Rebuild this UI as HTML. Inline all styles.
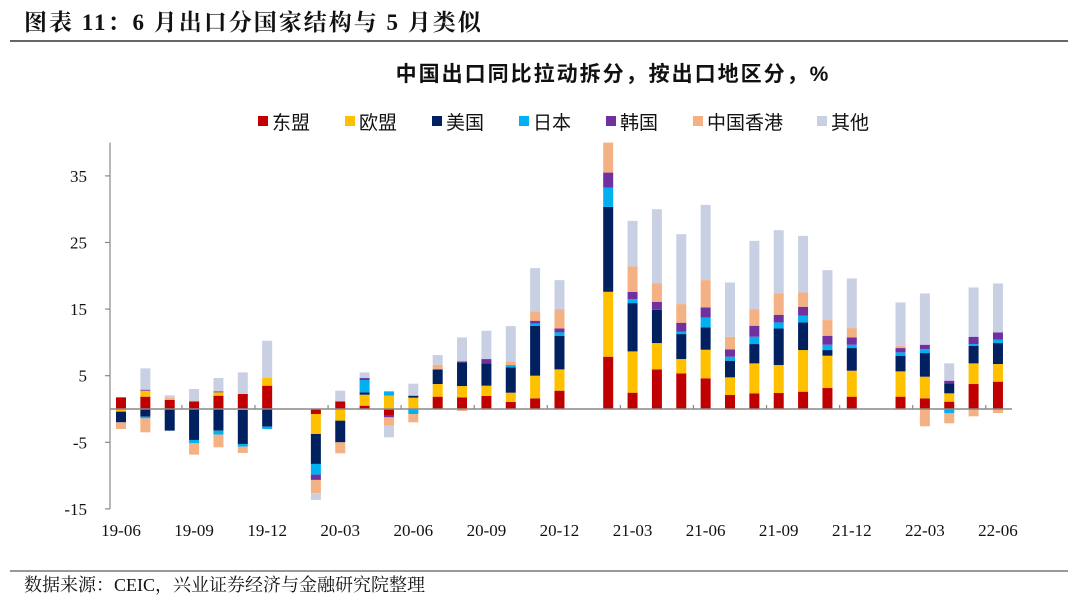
<!DOCTYPE html>
<html><head><meta charset="utf-8">
<style>
body{margin:0;background:#fff;}
#wrap{position:relative;width:1080px;height:607px;overflow:hidden;background:#fff;}
svg text{font-family:"Liberation Serif","Noto Serif CJK SC",serif;}
</style></head>
<body>
<div id="wrap">
<svg id="chart" width="1080" height="607" viewBox="0 0 1080 607" xmlns="http://www.w3.org/2000/svg">
  <text x="24" y="30" font-size="23" font-weight="bold" letter-spacing="2" fill="#111">图表 11：6 月出口分国家结构与 5 月类似</text>
  <line x1="10" y1="41" x2="1068" y2="41" stroke="#333" stroke-width="1.5"/>
  <text x="613" y="81" font-size="21" font-weight="bold" letter-spacing="2" text-anchor="middle" fill="#111" style="font-family:'Liberation Sans','Noto Sans CJK SC',sans-serif">中国出口同比拉动拆分，按出口地区分，%</text>
  <g id="legend"></g>
  <g id="plot"></g>
  <line x1="10" y1="571" x2="1068" y2="571" stroke="#333" stroke-width="1"/>
  <text x="24" y="591" font-size="18" fill="#111">数据来源：CEIC，兴业证券经济与金融研究院整理</text>
</svg>
</div>
<script>
const categories = ["19-06","19-07","19-08","19-09","19-10","19-11","19-12","20-01","20-02","20-03","20-04","20-05","20-06","20-07","20-08","20-09","20-10","20-11","20-12","21-01","21-02","21-03","21-04","21-05","21-06","21-07","21-08","21-09","21-10","21-11","21-12","22-01","22-02","22-03","22-04","22-05","22-06"];
const seriesNames = ["东盟","欧盟","美国","日本","韩国","中国香港","其他"];
const seriesColors = ["#C00000","#FFC000","#002060","#00B0F0","#7030A0","#F4B183","#C9D0E3"];
const asean  = [1.75,1.85,1.35,1.15,2,2.25,3.5,0,-0.75,1.15,0.5,-0.9,0.1,1.85,1.75,1.95,1.05,1.6,2.75,0,7.85,2.45,5.95,5.35,4.6,2.1,2.35,2.4,2.6,3.15,1.85,0,1.85,1.6,1.1,3.75,4.1];
const eu     = [-0.4,0.9,0,0,0.5,-0.15,1.15,0,-3,-1.75,1.65,2,1.6,1.9,1.7,1.55,1.4,3.4,3.2,0,9.75,6.2,3.95,2.15,4.3,2.65,4.5,4.2,6.25,4.85,3.9,0,3.8,3.25,1.25,3.1,2.65];
const usa    = [-1.6,-1.15,-3.25,-4.65,-3.25,-5.1,-2.65,0,-4.5,-3.25,0.35,0,0.3,2.2,3.55,3.35,3.8,7.5,5.05,0,12.75,7.25,5,3.75,3.35,2.5,2.9,5.5,4.15,0.85,3.4,0,2.35,3.55,1.5,2.65,3.15];
const japan  = [0,-0.25,0,-0.5,-0.6,-0.4,-0.35,0,-1.6,0,1.85,0.65,-0.75,0,0,0,0.35,0.35,0.5,0,2.9,0.6,0,0.35,1.5,0.6,1.1,0.9,1,0.8,0.5,0,0.5,0.6,-0.65,0.25,0.5];
const korea  = [0,0.15,0,0,0.15,0,0,0,-0.8,0,0.3,-0.35,0,0,0.15,0.65,0,0.4,0.6,0,2.25,1.1,1.2,1.35,1.5,1.1,1.65,1.15,1.35,1.35,1.1,0,0.65,0.65,0.4,1.1,1.1];
const hk     = [-1,-2.1,0.3,-1.7,-1.9,-0.95,0,0,-2,-1.65,0,-1.25,-1.25,0.7,-0.3,0,0.55,1.4,2.9,0,4.5,3.8,2.75,2.8,4.1,1.9,2.5,3.2,2.15,2.35,1.4,0,0.35,-2.6,-1.5,-1.1,-0.6];
const other  = [0,3.2,0.4,1.85,2,3.25,5.6,0,-1,1.6,0.85,-1.75,1.8,1.45,3.6,4.25,5.3,6.5,4.35,0,0,6.85,11.15,10.5,11.3,8.15,10.25,9.5,8.5,7.5,7.45,0,6.5,7.7,2.6,7.4,7.35];
const series = [asean,eu,usa,japan,korea,hk,other];
const yTicks = [35,25,15,5,-5,-15];
const xLabels = ["19-06","19-09","19-12","20-03","20-06","20-09","20-12","21-03","21-06","21-09","21-12","22-03","22-06"];

const NS="http://www.w3.org/2000/svg";
const yMin=-15, yMax=40, y0px=409, pxPerUnit=6.66;
const x0=121, step=24.36, barW=10;
const yScale=v=>y0px - v*pxPerUnit;
const xScale=i=>x0 + i*step;
function mk(tag, attrs, parent){const e=document.createElementNS(NS,tag);for(const k in attrs)e.setAttribute(k,attrs[k]);parent.appendChild(e);return e;}
const plot=document.getElementById('plot');
const legend=document.getElementById('legend');

const yAxis=mk('line',{x1:110,y1:yScale(yMax),x2:110,y2:yScale(yMin),stroke:'#888','stroke-width':1.2},plot);


yTicks.forEach(t=>{
  const tk=mk('line',{x1:105,x2:110,y1:yScale(t),y2:yScale(t),stroke:'#888','stroke-width':1.2},plot);
  
  
  const lb=mk('text',{x:87,y:yScale(t)+6,'font-size':17,'text-anchor':'end',fill:'#111'},plot);
  lb.textContent=t;
  
  
});

categories.forEach((c,i)=>{
  let pos=0,neg=0;
  series.forEach((s,k)=>{
    const v=s[i]; if(!v) return;
    let yTop,yBot;
    if(v>0){yBot=yScale(pos);pos+=v;yTop=yScale(pos);}
    else{yTop=yScale(neg);neg+=v;yBot=yScale(neg);}
    const top=Math.max(yTop,yScale(yMax));
    if(yBot<=top) return;
    const r=mk('rect',{x:xScale(i)-barW/2,y:top,width:barW,height:yBot-top,fill:seriesColors[k]},plot);
    
    
  });
});

const xAxis=mk('line',{x1:110,x2:1012,y1:y0px,y2:y0px,stroke:'#888','stroke-width':1.5},plot);


for(let i=2;i<categories.length-1;i+=3){
  const tk=mk('line',{x1:xScale(i+0.5),x2:xScale(i+0.5),y1:y0px,y2:y0px-4,stroke:'#888','stroke-width':1.2},plot);
  
  
}
xLabels.forEach(l=>{
  const i=categories.indexOf(l);
  const t=mk('text',{x:xScale(i),y:536,'font-size':17,'text-anchor':'middle',fill:'#111'},plot);
  t.textContent=l;
  
  
});

const lx=[258,345,432,519,606,693,817];
seriesNames.forEach((n,k)=>{
  const g=mk('g',{},legend);
  
  
  mk('rect',{x:lx[k],y:116,width:10,height:10,fill:seriesColors[k]},g);
  const t=mk('text',{x:lx[k]+14,y:129,'font-size':19,fill:'#111'},g);
  t.setAttribute('style',"font-family:'Liberation Sans','Noto Sans CJK SC',sans-serif");
  t.textContent=n;
});
</script>
</body></html>
